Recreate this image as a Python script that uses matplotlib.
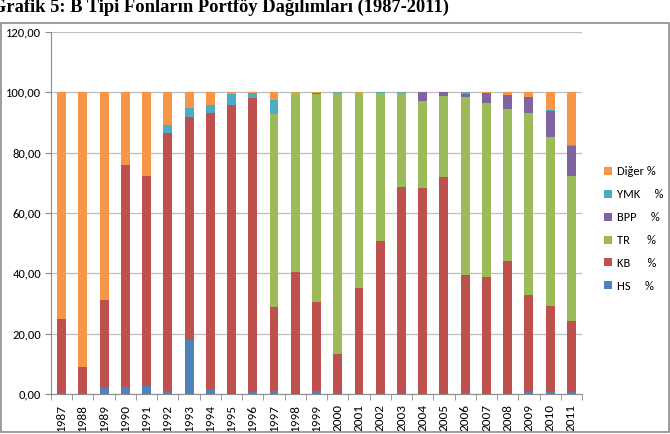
import numpy as np
import matplotlib.pyplot as plt
from matplotlib.patches import Rectangle

years = [str(y) for y in range(1987, 2012)]

hs = [0.0, 0.0, 2.0, 2.2, 2.5, 1.1, 17.9, 1.7, 0.0, 0.6, 1.1, 0.0, 0.9,
      0.0, 0.0, 0.0, 0.0, 0.0, 0.0, 0.3, 0.0, 0.0, 0.5, 0.5, 0.6]
kb = [24.9, 8.9, 29.0, 73.7, 69.8, 85.3, 74.0, 91.5, 95.8, 97.4, 27.7, 40.4, 29.6,
      13.1, 35.1, 50.7, 68.7, 68.4, 72.0, 39.0, 38.8, 44.0, 32.4, 28.8, 23.5]
tr = [0.0, 0.0, 0.0, 0.0, 0.0, 0.0, 0.0, 0.0, 0.0, 0.0, 63.9, 58.9, 68.9,
      86.6, 64.6, 49.0, 31.0, 28.8, 26.9, 59.3, 57.8, 50.5, 60.1, 56.0, 48.2]
bpp = [0.0, 0.0, 0.0, 0.0, 0.0, 0.0, 0.0, 0.0, 0.0, 0.0, 0.0, 0.0, 0.3,
       0.0, 0.0, 0.0, 0.0, 2.8, 1.1, 0.8, 3.1, 4.6, 5.3, 8.5, 9.9]
ymk = [0.0, 0.0, 0.0, 0.0, 0.0, 2.7, 3.0, 2.6, 3.7, 1.7, 4.8, 0.0, 0.0,
       0.3, 0.0, 0.3, 0.3, 0.0, 0.0, 0.6, 0.0, 0.0, 0.0, 0.4, 0.3]
diger = [75.1, 91.1, 69.0, 24.1, 27.7, 10.9, 5.1, 4.2, 0.5, 0.3, 2.5, 0.7, 0.3,
         0.0, 0.3, 0.0, 0.0, 0.0, 0.0, 0.0, 0.3, 0.9, 1.7, 5.8, 17.5]

series = [
    ("HS     %", hs, "#4F81BD"),
    ("KB      %", kb, "#C0504D"),
    ("TR      %", tr, "#9BBB59"),
    ("BPP     %", bpp, "#8064A2"),
    ("YMK     %", ymk, "#4BACC6"),
    ("Diğer %", diger, "#F79646"),
]

plt.rcParams['font.family'] = ['Carlito', 'Liberation Sans', 'DejaVu Sans']

fig = plt.figure(figsize=(6.7, 4.34), dpi=100)
W, H = 670, 434
ax = fig.add_axes([51 / W, 1 - 394 / H, (582 - 51) / W, (394 - 32) / H])

x = np.arange(len(years))
bottom = np.zeros(len(years))
handles = []
for label, vals, color in series:
    v = np.array(vals)
    b = ax.bar(x, v, width=0.42, bottom=bottom, color=color, label=label, zorder=3)
    handles.append(b)
    bottom += v

ax.set_xlim(-0.5, len(years) - 0.5)
ax.set_ylim(0, 120)
ax.set_yticks(np.arange(0, 121, 20))
ax.set_yticklabels([f"{v:.2f}".replace('.', ',') for v in np.arange(0, 121, 20)], fontsize=9)
ax.yaxis.grid(True, color='#BEBEBE', linewidth=0.9, zorder=0)
ax.set_xticks(x)
ax.set_xticklabels(years, rotation=90, fontsize=9.5)
ax.tick_params(axis='x', length=0, pad=7)
ax.set_xticks(np.arange(-0.5, len(years), 1), minor=True)
ax.tick_params(axis='x', which='minor', length=4, color='#8C8C8C')
ax.tick_params(axis='y', length=4, color='#8C8C8C', pad=3)
for s in ['top', 'right']:
    ax.spines[s].set_visible(False)
for s in ['left', 'bottom']:
    ax.spines[s].set_color('#8C8C8C')

leg = fig.legend(handles[::-1], [s[0] for s in series][::-1], loc='center left',
                 bbox_to_anchor=(593 / W, 1 - 229 / H), frameon=False, fontsize=9,
                 handlelength=0.6, handleheight=0.6, labelspacing=0.95, handletextpad=0.4)

fig.patches.append(Rectangle((1 / W, 1 - 432 / H), 668 / W, (432 - 23) / H,
                             transform=fig.transFigure, fill=False,
                             edgecolor='#8C8C8C', linewidth=1.2))

# title is cut at the top edge in the source image
fig.text(-0.012, 1 - 12 / H, "Grafik 5: B Tipi Fonların Portföy Dağılımları (1987-2011)",
         fontsize=13.3, fontweight='bold', family=['Liberation Serif', 'DejaVu Serif'],
         va='baseline', ha='left')

fig.savefig("out.png", dpi=100)
